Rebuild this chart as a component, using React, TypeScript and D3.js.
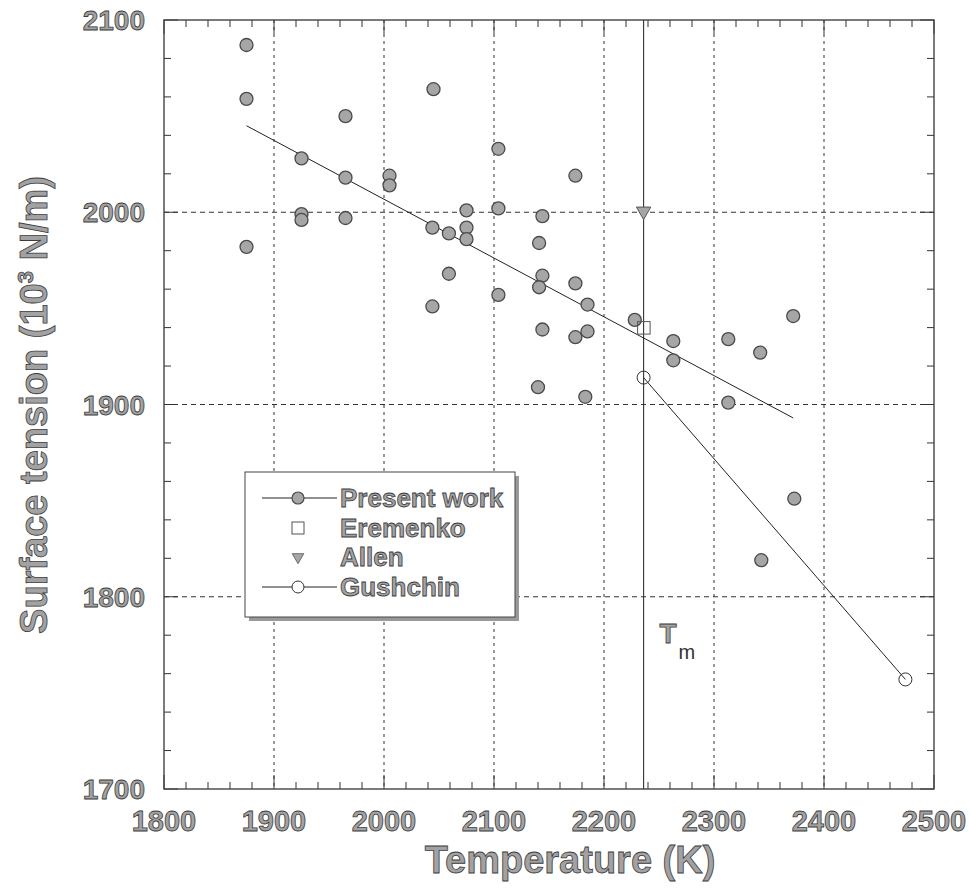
import * as d3 from "d3";

// Surface tension vs temperature
const presentWork: [number, number][] = [
  [1875, 2087], [1875, 2059], [1875, 1982],
  [1925, 2028], [1925, 1999], [1925, 1996],
  [1965, 2050], [1965, 2018], [1965, 1997],
  [2005, 2019], [2005, 2014],
  [2045, 2064], [2044, 1992], [2044, 1951],
  [2059, 1989], [2059, 1968],
  [2075, 2001], [2075, 1992], [2075, 1986],
  [2104, 2033], [2104, 2002], [2104, 1957],
  [2144, 1998], [2141, 1984], [2144, 1967], [2141, 1961], [2144, 1939], [2140, 1909],
  [2174, 2019], [2174, 1963], [2174, 1935],
  [2185, 1952], [2185, 1938], [2183, 1904],
  [2228, 1944],
  [2263, 1933], [2263, 1923],
  [2313, 1934], [2313, 1901],
  [2342, 1927], [2343, 1819],
  [2372, 1946], [2373, 1851],
];
const presentFit: [number, number][] = [[1875, 2045], [2372, 1893]];
const eremenko: [number, number][] = [[2236, 1940]];
const allen: [number, number][] = [[2236, 2000]];
const gushchin: [number, number][] = [[2236, 1914], [2474, 1757]];
const meltingPoint = 2236;

const xTicks = [1800, 1900, 2000, 2100, 2200, 2300, 2400, 2500];
const yTicks = [1700, 1800, 1900, 2000, 2100];
const legendItems = ["Present work", "Eremenko", "Allen", "Gushchin"];

const W = 970;
const H = 893;
const left = 164, right = 934, top = 20, bottom = 789;

const font = "'Liberation Sans', Arial, sans-serif";
const textFill = "#a2a2a2";
const textStroke = "#3c3c3c";

export default function App() {
  const x = d3.scaleLinear().domain([1800, 2500]).range([left, right]);
  const y = d3.scaleLinear().domain([1700, 2100]).range([bottom, top]);
  const line = d3.line<[number, number]>().x((d) => x(d[0])).y((d) => y(d[1]));

  const xMinor = d3.range(1800, 2501, 20).filter((v) => v % 100 !== 0);
  const yMinor = d3.range(1700, 2101, 20).filter((v) => v % 100 !== 0);
  const tri = d3.symbol(d3.symbolTriangle, 90)();

  const lgX = 245, lgY = 472, lgW = 270, lgH = 145;
  const rowY = [498, 528, 557, 587];
  const mkX = 298;

  const labelStyle = {
    fontFamily: font,
    fontWeight: "bold" as const,
    fill: textFill,
    stroke: textStroke,
    strokeWidth: 0.8,
  };

  return (
    <svg width={W} height={H} style={{ position: "absolute", left: 0, top: 0, background: "#fff" }}>
      {/* grid */}
      {xTicks.slice(1, -1).map((t) => (
        <line key={"gx" + t} x1={x(t)} x2={x(t)} y1={top} y2={bottom}
          stroke="#333" strokeWidth={1} strokeDasharray="3,4" />
      ))}
      {yTicks.slice(1, -1).map((t) => (
        <line key={"gy" + t} x1={left} x2={right} y1={y(t)} y2={y(t)}
          stroke="#333" strokeWidth={1} strokeDasharray="5,4" />
      ))}

      {/* minor & major ticks, all four sides, inward */}
      {xMinor.map((t) => (
        <g key={"xm" + t} stroke="#333" strokeWidth={1}>
          <line x1={x(t)} x2={x(t)} y1={bottom} y2={bottom - 7} />
          <line x1={x(t)} x2={x(t)} y1={top} y2={top + 7} />
        </g>
      ))}
      {xTicks.map((t) => (
        <g key={"xM" + t} stroke="#333" strokeWidth={1}>
          <line x1={x(t)} x2={x(t)} y1={bottom} y2={bottom - 14} />
          <line x1={x(t)} x2={x(t)} y1={top} y2={top + 14} />
        </g>
      ))}
      {yMinor.map((t) => (
        <g key={"ym" + t} stroke="#333" strokeWidth={1}>
          <line x1={left} x2={left + 7} y1={y(t)} y2={y(t)} />
          <line x1={right} x2={right - 7} y1={y(t)} y2={y(t)} />
        </g>
      ))}
      {yTicks.map((t) => (
        <g key={"yM" + t} stroke="#333" strokeWidth={1}>
          <line x1={left} x2={left + 14} y1={y(t)} y2={y(t)} />
          <line x1={right} x2={right - 14} y1={y(t)} y2={y(t)} />
        </g>
      ))}

      {/* frame */}
      <rect x={left} y={top} width={right - left} height={bottom - top}
        fill="none" stroke="#444" strokeWidth={1.4} />

      {/* melting point */}
      <line x1={x(meltingPoint)} x2={x(meltingPoint)} y1={top} y2={bottom}
        stroke="#333" strokeWidth={1.1} />
      <text x={x(meltingPoint) + 16} y={643} fontSize={28} {...labelStyle}>T</text>
      <text x={x(meltingPoint) + 35} y={659} fontSize={20} fontFamily={font} fill="#333">m</text>

      {/* fits */}
      <path d={line(presentFit) ?? ""} fill="none" stroke="#222" strokeWidth={1} />
      <path d={line(gushchin) ?? ""} fill="none" stroke="#222" strokeWidth={1} />

      {/* data */}
      {presentWork.map((d, i) => (
        <circle key={"p" + i} cx={x(d[0])} cy={y(d[1])} r={6.5}
          fill="#a6a6a6" stroke="#4a4a4a" strokeWidth={1.3} />
      ))}
      {eremenko.map((d, i) => (
        <rect key={"e" + i} x={x(d[0]) - 6} y={y(d[1]) - 6} width={12.5} height={12.5}
          fill="none" stroke="#555" strokeWidth={1} />
      ))}
      {allen.map((d, i) => (
        <path key={"a" + i} d={tri ?? ""} transform={`translate(${x(d[0])},${y(d[1]) - 1}) rotate(180)`}
          fill="#a6a6a6" stroke="#555" strokeWidth={1} />
      ))}
      {gushchin.map((d, i) => (
        <circle key={"g" + i} cx={x(d[0])} cy={y(d[1])} r={6.5}
          fill="#fff" fillOpacity={0} stroke="#333" strokeWidth={1} />
      ))}

      {/* legend */}
      <rect x={lgX + 4} y={lgY + 4} width={lgW} height={lgH} fill="#9a9a9a" />
      <rect x={lgX} y={lgY} width={lgW} height={lgH} fill="#fff" stroke="#444" strokeWidth={1} />
      <line x1={262} x2={337} y1={rowY[0]} y2={rowY[0]} stroke="#222" strokeWidth={1} />
      <circle cx={mkX} cy={rowY[0]} r={6} fill="#a6a6a6" stroke="#4a4a4a" strokeWidth={1.2} />
      <rect x={mkX - 6} y={rowY[1] - 6} width={12} height={12} fill="none" stroke="#555" strokeWidth={1} />
      <path d={tri ?? ""} transform={`translate(${mkX},${rowY[2]}) rotate(180) scale(0.8)`}
        fill="#a6a6a6" stroke="#555" strokeWidth={1} />
      <line x1={262} x2={337} y1={rowY[3]} y2={rowY[3]} stroke="#222" strokeWidth={1} />
      <circle cx={mkX} cy={rowY[3]} r={6} fill="#fff" stroke="#333" strokeWidth={1} />
      {legendItems.map((t, i) => (
        <text key={t} x={340} y={rowY[i] + 9} fontSize={26} {...labelStyle}>{t}</text>
      ))}

      {/* tick labels */}
      {xTicks.map((t) => (
        <text key={"xl" + t} x={x(t)} y={831} textAnchor="middle" fontSize={29} {...labelStyle}>{t}</text>
      ))}
      {yTicks.map((t) => (
        <text key={"yl" + t} x={145} y={y(t) + 10} textAnchor="end" fontSize={28} {...labelStyle}>{t}</text>
      ))}

      {/* axis titles */}
      <text x={570} y={873} textAnchor="middle" fontSize={38} {...labelStyle}>Temperature (K)</text>
      <text transform="translate(47,405) rotate(-90)" textAnchor="middle" fontSize={38} {...labelStyle}>
        Surface tension (10<tspan dy={-14} fontSize={22}>3</tspan><tspan dy={14}> N/m)</tspan>
      </text>
    </svg>
  );
}
